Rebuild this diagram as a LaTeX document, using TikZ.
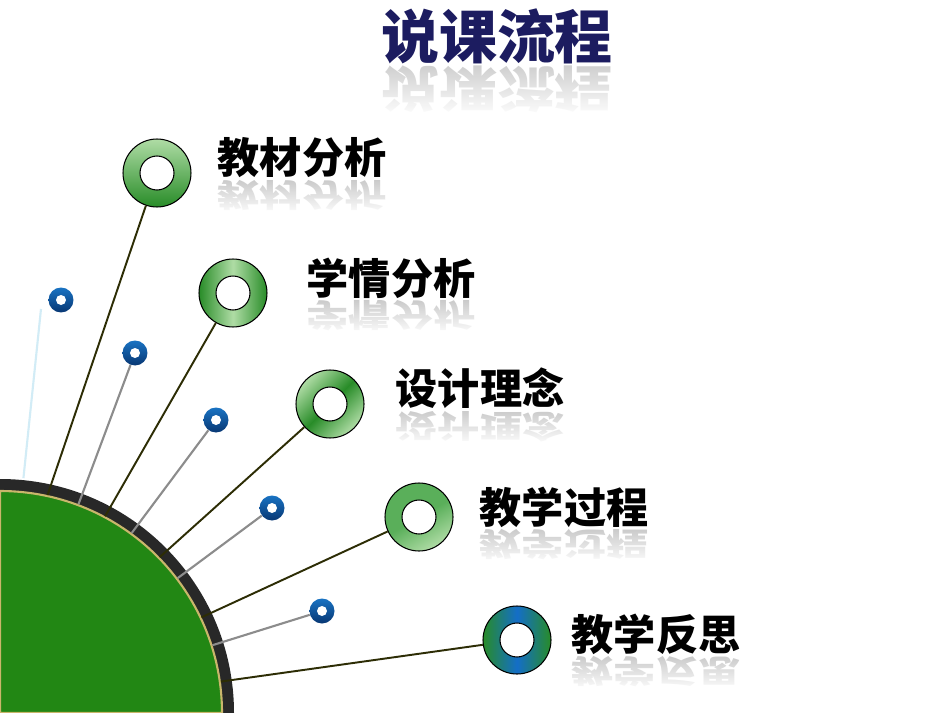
\documentclass[tikz,border=0pt]{standalone}
\usepackage{fontspec}
\newfontfamily\cjk{Noto Sans CJK SC}
\usetikzlibrary{calc,fadings}
\definecolor{navy}{RGB}{28,28,96}
\definecolor{quartergreen}{RGB}{34,135,20}
\definecolor{ringdark}{RGB}{40,40,40}
\definecolor{goldedge}{RGB}{201,182,107}
\definecolor{olivedark}{RGB}{45,45,5}
\definecolor{linegray}{RGB}{140,140,140}
\definecolor{lightblue}{RGB}{210,236,246}
\definecolor{gl}{RGB}{175,220,165}
\definecolor{gm}{RGB}{90,175,90}
\definecolor{gd}{RGB}{40,140,40}
\definecolor{bluemid}{RGB}{20,110,200}
\definecolor{bluetop}{RGB}{25,115,195}
\definecolor{bluebot}{RGB}{8,55,115}
\tikzset{
  bigring/.style={circle, draw=black, line width=0.6pt, minimum size=1.36cm, inner sep=0pt},
  hole/.style={circle, draw=black, fill=white, line width=0.6pt, minimum size=0.68cm, inner sep=0pt},
  dotring/.style={circle, minimum size=0.5cm, inner sep=0pt, top color=bluetop, bottom color=bluebot},
  dothole/.style={circle, fill=white, minimum size=0.2cm, inner sep=0pt},
  darkline/.style={draw=olivedark, line width=1.1pt},
  grayline/.style={draw=linegray, line width=1.2pt},
  lbl/.style={font=\cjk\bfseries\fontsize{24}{26}\selectfont, inner sep=0pt, text=black},
  refl/.style={font=\cjk\bfseries\fontsize{24}{26}\selectfont, inner sep=0pt, text=gray!45},
  ttl/.style={font=\cjk\bfseries\fontsize{33}{36}\selectfont, inner sep=0pt, text=navy},
  ttlrefl/.style={font=\cjk\bfseries\fontsize{33}{36}\selectfont, inner sep=0pt, text=gray!40},
  fadecover/.style={fill=white, path fading=north}
}
\begin{document}
\begin{tikzpicture}[x=0.02cm,y=-0.02cm]
\useasboundingbox (0,0) rectangle (950,713);
\fill[white] (0,0) rectangle (950,713);

% title
\node[ttl] (title) at (497,36) {说课流程};
\node[ttlrefl, anchor=north] (titler) at ([yshift=-1pt]title.south) {\scalebox{1}[-0.85]{说课流程}};
\fill[fadecover] ([xshift=-2pt,yshift=2pt]titler.north west) rectangle ([xshift=2pt,yshift=-2pt]titler.south east);

% quarter disc
\coordinate (O) at (0,713);
\path (O) ++(-84.3:236) coordinate (p0);
\coordinate (q0) at (41,309);
\draw[lightblue, line width=1.2pt] (p0) -- (q0);
\fill[ringdark] (O) -- ++(0,-234) arc[start angle=-90, end angle=0, radius=234] -- cycle;
\fill[quartergreen, draw=goldedge, line width=1.2pt] (O) -- ++(0,-222) arc[start angle=-90, end angle=0, radius=222] -- cycle;

% arc points
\path (O) ++(-77.7:223) coordinate (a1);
\path (O) ++(-69.4:223) coordinate (b2);
\path (O) ++(-61.9:223) coordinate (a2);
\path (O) ++(-53.8:223) coordinate (b3);
\path (O) ++(-44.3:223) coordinate (a3);
\path (O) ++(-37.2:223) coordinate (b4);
\path (O) ++(-25.4:223) coordinate (a4);
\path (O) ++(-17.7:223) coordinate (b5);
\path (O) ++(-8.1:223) coordinate (a5);

% big rings
\node[bigring, top color=gl, bottom color=gd] (r1) at (157,173) {};
\node[hole] (h1) at (r1.center) {};
\node[bigring, left color=gd, right color=gd, middle color=gl] (r2) at (233,293) {};
\node[hole] (h2) at (r2.center) {};
\node[bigring, left color=gl, right color=gl, middle color=gd, shading angle=45] (r3) at (330,404) {};
\node[hole] (h3) at (r3.center) {};
\node[bigring, left color=gm, right color=gl, middle color=gm, shading angle=30] (r4) at (419,517) {};
\node[hole] (h4) at (r4.center) {};
\node[bigring, left color=gd, right color=gd, middle color=bluemid] (r5) at (517,640) {};
\node[hole] (h5) at (r5.center) {};

% small blue rings
\node[dotring] (s1) at (61,300) {};
\node[dothole] at (s1.center) {};
\node[dotring] (s2) at (135,353) {};
\node[dothole] at (s2.center) {};
\node[dotring] (s3) at (216,420) {};
\node[dothole] at (s3.center) {};
\node[dotring] (s4) at (272,508) {};
\node[dothole] at (s4.center) {};
\node[dotring] (s5) at (322,611) {};
\node[dothole] at (s5.center) {};

% connectors
\draw[darkline] (a1) -- (r1);
\draw[darkline] (a2) -- (r2);
\draw[darkline] (a3) -- (r3);
\draw[darkline] (a4) -- (r4);
\draw[darkline] (a5) -- (r5);
\draw[grayline] (b2) -- (s2);
\draw[grayline] (b3) -- (s3);
\draw[grayline] (b4) -- (s4);
\draw[grayline] (b5) -- (s5);

% labels
\node[lbl] (t1) at (302,158) {教材分析};
\node[refl, anchor=north] (u1) at ([yshift=-1pt]t1.south) {\scalebox{1}[-0.75]{教材分析}};
\node[lbl] (t2) at (391,278) {学情分析};
\node[refl, anchor=north] (u2) at ([yshift=-1pt]t2.south) {\scalebox{1}[-0.75]{学情分析}};
\node[lbl] (t3) at (480,388) {设计理念};
\node[refl, anchor=north] (u3) at ([yshift=-1pt]t3.south) {\scalebox{1}[-0.75]{设计理念}};
\node[lbl] (t4) at (564,507) {教学过程};
\node[refl, anchor=north] (u4) at ([yshift=-1pt]t4.south) {\scalebox{1}[-0.75]{教学过程}};
\node[lbl] (t5) at (656,634) {教学反思};
\node[refl, anchor=north] (u5) at ([yshift=-1pt]t5.south) {\scalebox{1}[-0.75]{教学反思}};
\foreach \k in {1,...,5}{
  \fill[fadecover] ([xshift=-2pt,yshift=2pt]u\k.north west) rectangle ([xshift=2pt,yshift=-2pt]u\k.south east);
}
\end{tikzpicture}
\end{document}
